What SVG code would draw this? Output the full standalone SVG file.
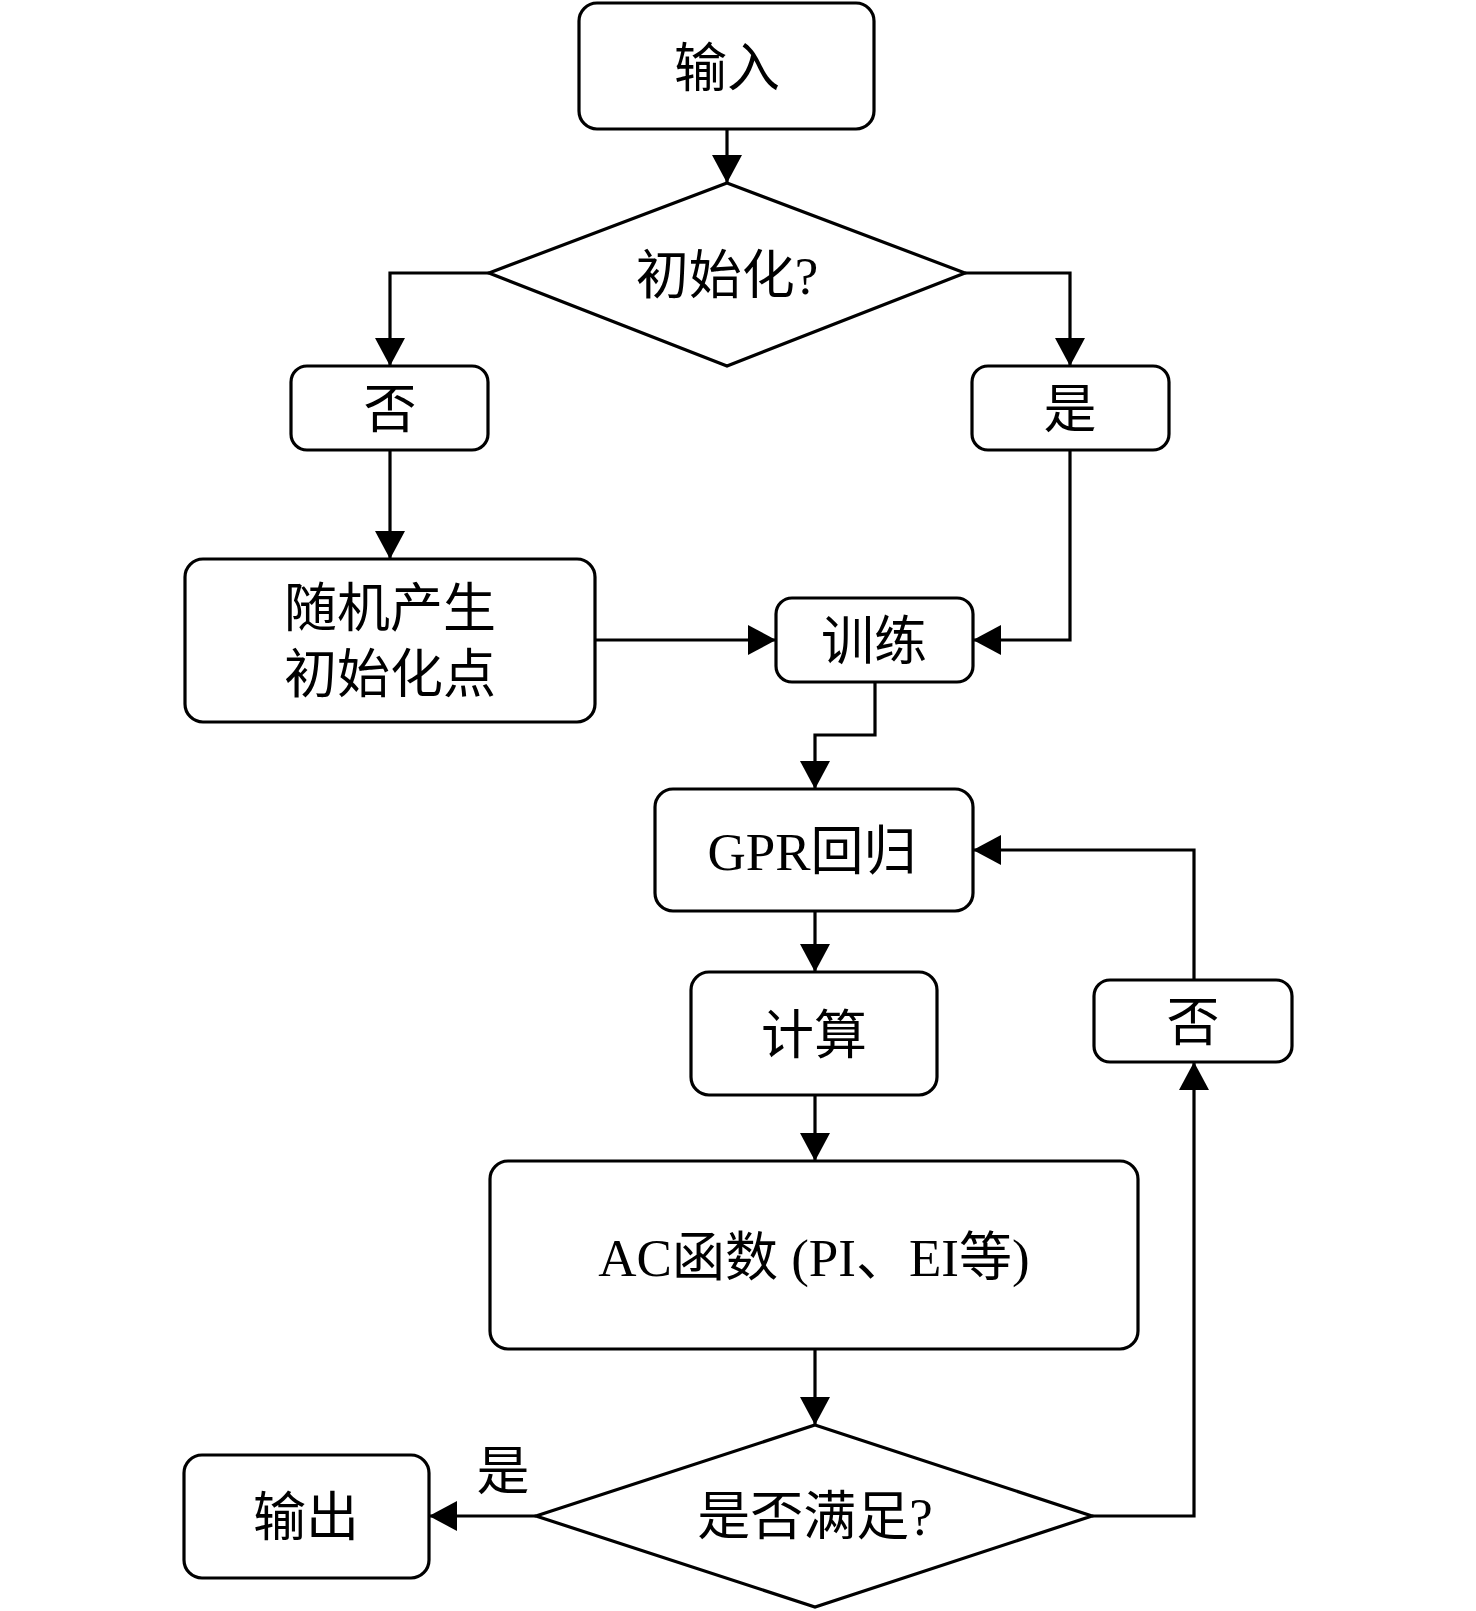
<svg xmlns="http://www.w3.org/2000/svg" width="1476" height="1611" viewBox="0 0 1476 1611">
<style>
.n{fill:#fff;stroke:#000;stroke-width:3.2}
.t{font-family:"Liberation Serif","Noto Sans CJK SC",serif;font-size:53px;fill:#000;text-anchor:middle;dominant-baseline:central}
.c{fill:none;stroke:#000;stroke-width:3.2}
</style>
<defs>
<marker id="a" viewBox="0 0 28 30" refX="28" refY="15" markerWidth="28" markerHeight="30" markerUnits="userSpaceOnUse" orient="auto">
<path d="M0,0L28,15L0,30z" fill="#000"/>
</marker>
</defs>
<rect width="1476" height="1611" fill="#fff"/>
<g id="connectors">
<path class="c" d="M727,129V183" marker-end="url(#a)"/>
<path class="c" d="M489,273H390V366" marker-end="url(#a)"/>
<path class="c" d="M965,273H1070V366" marker-end="url(#a)"/>
<path class="c" d="M390,450V559" marker-end="url(#a)"/>
<path class="c" d="M1070,450V640H973" marker-end="url(#a)"/>
<path class="c" d="M595,640H776" marker-end="url(#a)"/>
<path class="c" d="M875,682V735H815V789" marker-end="url(#a)"/>
<path class="c" d="M815,911V972" marker-end="url(#a)"/>
<path class="c" d="M815,1095V1161" marker-end="url(#a)"/>
<path class="c" d="M815,1349V1425" marker-end="url(#a)"/>
<path class="c" d="M536,1516H429" marker-end="url(#a)"/>
<path class="c" d="M1092,1516H1194V1062" marker-end="url(#a)"/>
<path class="c" d="M1194,980V850H973" marker-end="url(#a)"/>
</g>
<g id="input"><rect class="n" x="579" y="3" width="295" height="126" rx="18"/><text class="t" x="727" y="69">输入</text></g>
<g id="init"><path class="n" d="M727,183L965,273L727,366L489,273Z"/><text class="t" x="727" y="276">初始化?</text></g>
<g id="no1"><rect class="n" x="291" y="366" width="197" height="84" rx="16"/><text class="t" x="390" y="410">否</text></g>
<g id="yes1"><rect class="n" x="972" y="366" width="197" height="84" rx="16"/><text class="t" x="1070" y="410">是</text></g>
<g id="random"><rect class="n" x="185" y="559" width="410" height="163" rx="18"/><text class="t" x="390" y="609">随机产生</text><text class="t" x="390" y="675">初始化点</text></g>
<g id="train"><rect class="n" x="776" y="598" width="197" height="84" rx="16"/><text class="t" x="874" y="642">训练</text></g>
<g id="gpr"><rect class="n" x="655" y="789" width="318" height="122" rx="18"/><text class="t" x="812" y="852">GPR回归</text></g>
<g id="calc"><rect class="n" x="691" y="972" width="246" height="123" rx="18"/><text class="t" x="814" y="1036">计算</text></g>
<g id="ac"><rect class="n" x="490" y="1161" width="648" height="188" rx="18"/><text class="t" x="814" y="1258">AC函数 (PI、EI等)</text></g>
<g id="check"><path class="n" d="M815,1425L1092,1516L815,1607L536,1516Z"/><text class="t" x="815" y="1517">是否满足?</text></g>
<g id="no2"><rect class="n" x="1094" y="980" width="198" height="82" rx="16"/><text class="t" x="1193" y="1023">否</text></g>
<g id="output"><rect class="n" x="184" y="1455" width="245" height="123" rx="18"/><text class="t" x="306" y="1518">输出</text></g>
<text class="t" x="503" y="1472">是</text>
</svg>
